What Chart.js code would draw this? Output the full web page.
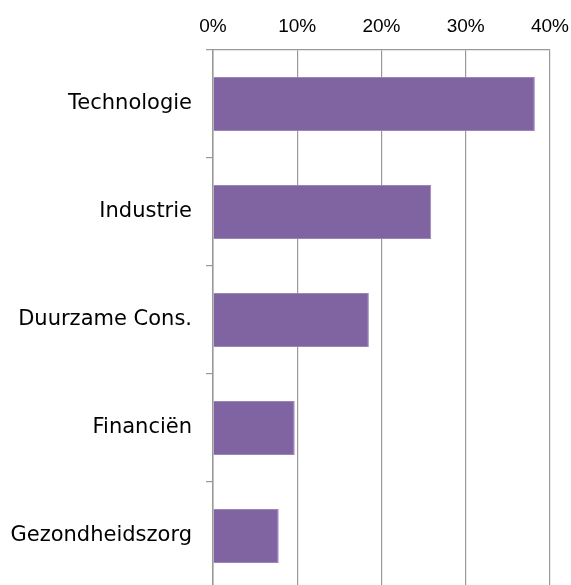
<!DOCTYPE html>
<html>
<head>
<meta charset="utf-8">
<script src="https://cdn.jsdelivr.net/npm/chart.js@4"></script>
<style>
  html, body { margin: 0; padding: 0; background: #fff; overflow: hidden; }
  #wrap { width: 571px; height: 592px; }
</style>
</head>
<body>
<div id="wrap"><canvas id="sectorChart"></canvas></div>
<script>
// Sector weights (%)
const categories = ['Technologie', 'Industrie', 'Duurzame Cons.', 'Financiën', 'Gezondheidszorg'];
const weights = [38.2, 25.9, 18.5, 9.7, 7.8];
const xTicks = [0, 10, 20, 30, 40];

const gridGrey = '#999999';

const ctx = document.getElementById('sectorChart').getContext('2d');
const sectorChart = new Chart(ctx, {
    type: 'bar',
    data: {
        labels: categories,
        datasets: [{
            data: weights,
            backgroundColor: '#8064A2',
            borderColor: '#9a86b8',
            borderWidth: 1,
            barPercentage: 0.5,
            categoryPercentage: 1
        }]
    },
    options: {
        indexAxis: 'y',
        responsive: true,
        maintainAspectRatio: false,
        animation: false,
        layout: { padding: { left: 0, right: 21, top: 0, bottom: 2 } },
        plugins: {
            legend: { display: false },
            tooltip: { enabled: false }
        },
        scales: {
            x: {
                position: 'top',
                min: xTicks[0],
                max: xTicks[xTicks.length - 1],
                afterBuildTicks: (scale) => {
                    scale.ticks = xTicks.map(v => ({ value: v }));
                },
                // fixed axis height, no extra room for the end labels
                afterFit: (scale) => {
                    scale.height = 50;
                    scale.paddingLeft = 0;
                    scale.paddingRight = 0;
                },
                grid: { color: gridGrey, lineWidth: 1.2, drawTicks: false },
                border: { display: true, color: gridGrey, width: 1.2 },
                ticks: {
                    padding: 12,
                    color: '#000',
                    font: { family: 'Liberation Sans', size: 19 },
                    callback: (v) => v + '%'
                }
            },
            y: {
                afterFit: (scale) => {
                    scale.width = 213;
                    scale.paddingTop = 0;
                    scale.paddingBottom = 0;
                },
                grid: {
                    offset: true,
                    drawOnChartArea: false,
                    drawTicks: true,
                    tickLength: 7,
                    color: gridGrey,
                    lineWidth: 1.2
                },
                border: { display: true, color: gridGrey, width: 1.5 },
                ticks: {
                    padding: 14,
                    color: '#000',
                    font: { family: 'DejaVu Sans', size: 21 }
                }
            }
        }
    }
});
</script>
</body>
</html>
